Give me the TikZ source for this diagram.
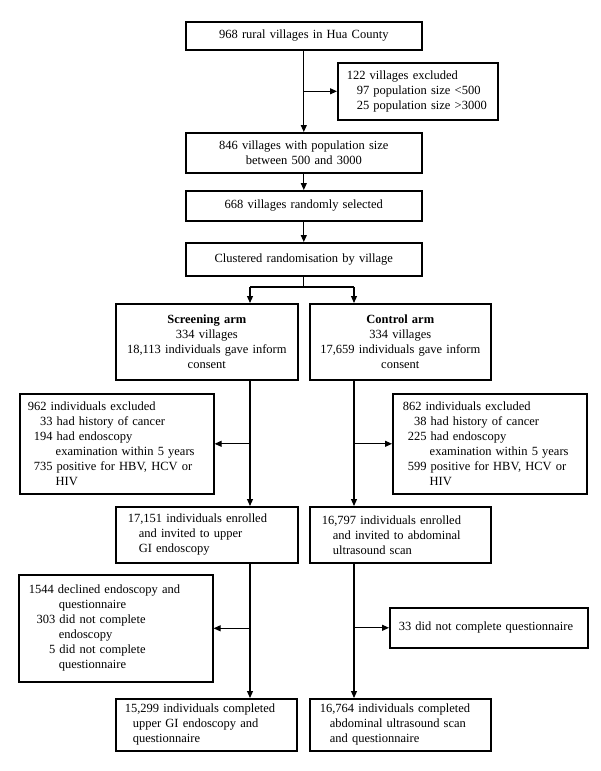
\documentclass[tikz,border=0pt]{standalone}
\usepackage{fontspec}
\setmainfont{Liberation Serif}
\usetikzlibrary{arrows.meta}
\newcommand{\nb}[1]{\makebox[18.75pt][r]{#1}\ }
\newcommand{\nbc}{\hspace*{21.9pt}}
\begin{document}
\begin{tikzpicture}[x=1pt,y=-1pt,
  box/.style={draw, line width=1.6pt, inner ysep=0pt, anchor=north west,
    font=\fontsize{12.5}{15}\selectfont},
  cbox/.style={box, align=center, inner xsep=6pt},
  lbox/.style={box, align=left},
  conn/.style={line width=1.1pt},
  arr/.style={conn, -{Triangle[length=7pt,width=6pt]}}]
\useasboundingbox[fill=white] (0,0) rectangle (600,771);

\node[cbox, minimum height=28pt, text width=224pt] (n1) at (185,21) {968 rural villages in Hua County};
\node[lbox, minimum height=57pt, text width=142pt, inner xsep=9pt] (ex1) at (337,62)
  {122 villages excluded\\\hspace*{10pt}97 population size <500\\\hspace*{10pt}25 population size >3000};
\node[cbox, minimum height=40pt, text width=224pt] (n2) at (185,132) {846 villages with population size\\between 500 and 3000};
\node[cbox, minimum height=30pt, text width=224pt] (n3) at (185,190) {668 villages randomly selected};
\node[cbox, minimum height=33pt, text width=224pt] (n4) at (185,242) {Clustered randomisation by village};

\node[cbox, minimum height=76pt, text width=170pt] (scr) at (115,303)
  {\textbf{Screening arm}\\334 villages\\18,113 individuals gave inform\\consent};
\node[cbox, minimum height=76pt, text width=169pt] (ctl) at (309,303)
  {\textbf{Control arm}\\334 villages\\17,659 individuals gave inform\\consent};

\node[lbox, minimum height=100pt, text width=178pt, inner xsep=8pt] (exL) at (19,393)
  {962 individuals excluded\\
   \hspace*{6pt}\nb{33}had history of cancer\\
   \hspace*{6pt}\nb{194}had endoscopy\\
   \hspace*{6pt}\nbc examination within 5 years\\
   \hspace*{6pt}\nb{735}positive for HBV, HCV or\\
   \hspace*{6pt}\nbc HIV};
\node[lbox, minimum height=100pt, text width=174pt, inner xsep=10pt] (exR) at (392,393)
  {862 individuals excluded\\
   \hspace*{5pt}\nb{38}had history of cancer\\
   \hspace*{5pt}\nb{225}had endoscopy\\
   \hspace*{5pt}\nbc examination within 5 years\\
   \hspace*{5pt}\nb{599}positive for HBV, HCV or\\
   \hspace*{5pt}\nbc HIV};

\node[lbox, minimum height=56pt, text width=158pt, inner xsep=12pt] (enL) at (115,506)
  {17,151 individuals enrolled\\\hspace*{11pt}and invited to upper\\\hspace*{11pt}GI endoscopy};
\node[lbox, minimum height=56pt, text width=157pt, inner xsep=12pt] (enR) at (309,506)
  {16,797 individuals enrolled\\\hspace*{11pt}and invited to abdominal\\\hspace*{11pt}ultrasound scan};

\node[lbox, minimum height=107pt, text width=174pt, inner xsep=10pt] (ex2L) at (18,574)
  {1544 declined endoscopy and\\
   \hspace*{30pt}questionnaire\\
   \makebox[26.5pt][r]{303}\ did not complete\\
   \hspace*{30pt}endoscopy\\
   \makebox[26.5pt][r]{5}\ did not complete\\
   \hspace*{30pt}questionnaire};
\node[lbox, minimum height=40pt, text width=180pt, inner xsep=9pt] (ex2R) at (389,607)
  {33 did not complete questionnaire};

\node[lbox, minimum height=52pt, text width=163pt, inner xsep=9pt] (fiL) at (115,698)
  {15,299 individuals completed\\\hspace*{8pt}upper GI endoscopy and\\\hspace*{8pt}questionnaire};
\node[lbox, minimum height=52pt, text width=161pt, inner xsep=10pt] (fiR) at (309,698)
  {16,764 individuals completed\\\hspace*{10pt}abdominal ultrasound scan\\\hspace*{10pt}and questionnaire};

\coordinate (bL) at (250,287);
\coordinate (bR) at (354,287);

\draw[arr] (n1.south) -- (n2.north);
\draw[arr] (n1.south |- ex1.west) -- (ex1.west);
\draw[arr] (n2.south) -- (n3.north);
\draw[arr] (n3.south) -- (n4.north);
\draw[conn] (n4.south) -- (n4.south |- bL);
\draw[conn] (bL) -- (bR);
\draw[arr] (bL) -- (bL |- scr.north);
\draw[arr] (bR) -- (bR |- ctl.north);

\draw[arr] (bL |- scr.south) -- (bL |- enL.north);
\draw[arr] (bL |- exL.east) -- (exL.east);
\draw[arr] (bR |- ctl.south) -- (bR |- enR.north);
\draw[arr] (bR |- exR.west) -- (exR.west);

\draw[arr] (bL |- enL.south) -- (bL |- fiL.north);
\draw[arr] (bL |- ex2L.east) -- (ex2L.east);
\draw[arr] (bR |- enR.south) -- (bR |- fiR.north);
\draw[arr] (bR |- ex2R.west) -- (ex2R.west);
\end{tikzpicture}
\end{document}
